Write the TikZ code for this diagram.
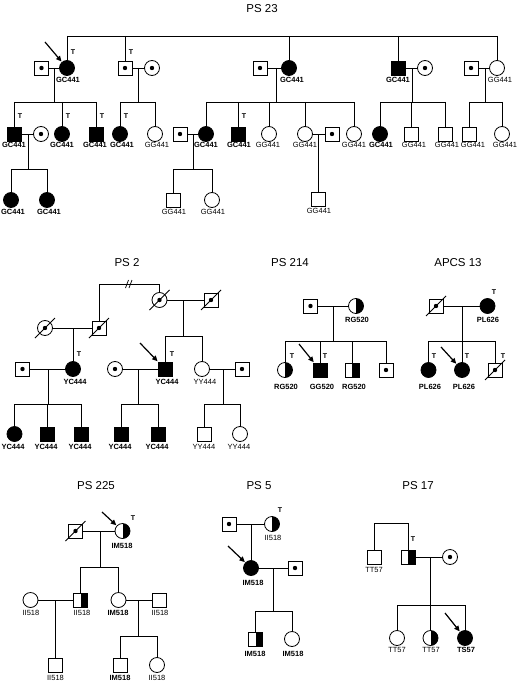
\documentclass[tikz,border=0pt]{standalone}
\usepackage{fontspec}
\setmainfont{Liberation Sans}
\usetikzlibrary{arrows.meta}
\newcommand\deadmark[1]{\draw[ln] ([shift={(-10,10)}]#1.center) -- ([shift={(10,-10)}]#1.center);}
\begin{document}
\begin{tikzpicture}[x=1pt,y=-1pt,
  sym/.style={draw, line width=0.8pt, inner sep=0pt, outer sep=0pt},
  sq/.style={sym, rectangle, minimum size=14pt},
  ci/.style={sym, circle, minimum size=15pt},
  aff/.style={fill=black},
  car/.style={path picture={\fill (path picture bounding box.center) circle (2.2pt);}},
  half/.style={path picture={\fill (path picture bounding box.north) rectangle (path picture bounding box.south east);}},
  lab/.style={font=\fontsize{7.5}{8}\selectfont, inner sep=0pt},
  blab/.style={font=\fontsize{7.5}{8}\selectfont\bfseries, inner sep=0pt},
  tm/.style={font=\fontsize{7}{8}\selectfont\bfseries, inner sep=0pt},
  ttl/.style={font=\fontsize{11.5}{13}\selectfont, inner sep=0pt},
  ln/.style={line width=0.75pt},
  prob/.style={line width=1.2pt, -{Triangle[length=5.5pt,width=5pt]}, shorten >=1pt}
]
\useasboundingbox (0,0) rectangle (520,682);

%================ PS 23
\node[ttl] (T23) at (262,9) {PS 23};
\node[sq,car] (a1) at (41.5,68) {};
\node[ci,aff] (a2) at (67,68) {};
\node[sq,car] (a3) at (125,68) {};
\node[ci,car] (a4) at (152,68) {};
\node[sq,car] (a5) at (260,68) {};
\node[ci,aff] (a6) at (289,68) {};
\node[sq,aff] (a7) at (398,68) {};
\node[ci,car] (a8) at (425,68) {};
\node[sq,car] (a9) at (471,68) {};
\node[ci] (a10) at (497,68) {};
\node[tm] (ta2) at (73,52) {T};
\node[tm] (ta3) at (131,52) {T};
\node[blab] (La2) at (68,80) {GC441};
\node[blab] (La6) at (292,80) {GC441};
\node[blab] (La7) at (398,80) {GC441};
\node[lab] (La10) at (500,80) {GG441};
\coordinate (ar23) at (45,42);
\draw[prob] (ar23) -- (a2);

\coordinate (top23) at (0,36);
\draw[ln] (a2|-top23) -- (a10|-top23);
\foreach \c in {a2,a3,a6,a7,a10} \draw[ln] (\c|-top23) -- (\c);

% row 2
\node[sq,aff] (b1) at (14,134) {};
\node[ci,car] (b2) at (41,134) {};
\node[ci,aff] (b3) at (62,134) {};
\node[sq,aff] (b4) at (96,134) {};
\node[ci,aff] (b5) at (120,134) {};
\node[ci] (b6) at (155,134) {};
\node[sq,car] (b7) at (180,134) {};
\node[ci,aff] (b8) at (206,134) {};
\node[sq,aff] (b9) at (238,134) {};
\node[ci] (b10) at (269,134) {};
\node[ci] (b11) at (305,134) {};
\node[sq,car] (b13) at (332,134) {};
\node[ci] (b12) at (354,134) {};
\node[ci,aff] (b14) at (380,134) {};
\node[sq] (b15) at (411,134) {};
\node[sq] (b16) at (445,134) {};
\node[sq] (b17) at (469,134) {};
\node[ci] (b18) at (502,134) {};
\node[tm] (tb1) at (20,116) {T};
\node[tm] (tb3) at (68,116) {T};
\node[tm] (tb4) at (102,116) {T};
\node[tm] (tb5) at (126,116) {T};
\node[tm] (tb9) at (244,116) {T};
\node[blab] (Lb1) at (14,145) {GC441};
\node[blab] (Lb3) at (62,145) {GC441};
\node[blab] (Lb4) at (95,145) {GC441};
\node[blab] (Lb5) at (122,145) {GC441};
\node[lab] (Lb6) at (157,145) {GG441};
\node[blab] (Lb8) at (206,145) {GC441};
\node[blab] (Lb9) at (239,145) {GC441};
\node[lab] (Lb10) at (268,145) {GG441};
\node[lab] (Lb11) at (305,145) {GG441};
\node[lab] (Lb12) at (354,145) {GG441};
\node[blab] (Lb14) at (381,145) {GC441};
\node[lab] (Lb15) at (414,145) {GG441};
\node[lab] (Lb16) at (447,145) {GG441};
\node[lab] (Lb17) at (473,145) {GG441};
\node[lab] (Lb18) at (505,145) {GG441};

% families row1 -> row2
\draw[ln] (a1) -- (a2);
\coordinate (s1) at (54,102);
\draw[ln] (s1|-a1) -- (s1);
\draw[ln] (b1|-s1) -- (b4|-s1);
\foreach \c in {b1,b3,b4} \draw[ln] (\c|-s1) -- (\c);

\draw[ln] (a3) -- (a4);
\coordinate (s2) at (138,102);
\draw[ln] (s2|-a3) -- (s2);
\draw[ln] (b5|-s2) -- (b6|-s2);
\foreach \c in {b5,b6} \draw[ln] (\c|-s2) -- (\c);

\draw[ln] (a5) -- (a6);
\coordinate (s3) at (276,102);
\draw[ln] (s3|-a5) -- (s3);
\draw[ln] (b8|-s3) -- (b12|-s3);
\foreach \c in {b8,b9,b10,b11,b12} \draw[ln] (\c|-s3) -- (\c);

\draw[ln] (a7) -- (a8);
\coordinate (s4) at (412,102);
\draw[ln] (s4|-a7) -- (s4);
\draw[ln] (b14|-s4) -- (b16|-s4);
\foreach \c in {b14,b15,b16} \draw[ln] (\c|-s4) -- (\c);

\draw[ln] (a9) -- (a10);
\coordinate (s5) at (485,102);
\draw[ln] (s5|-a9) -- (s5);
\draw[ln] (b17|-s5) -- (b18|-s5);
\foreach \c in {b17,b18} \draw[ln] (\c|-s5) -- (\c);

% row 3
\node[ci,aff] (c1) at (11,200) {};
\node[ci,aff] (c2) at (47,200) {};
\node[sq] (c3) at (173,200) {};
\node[ci] (c4) at (212,200) {};
\node[sq] (c5) at (318,199) {};
\node[blab] (Lc1) at (13,212) {GC441};
\node[blab] (Lc2) at (49,212) {GC441};
\node[lab] (Lc3) at (174,212) {GG441};
\node[lab] (Lc4) at (213,212) {GG441};
\node[lab] (Lc5) at (319,211) {GG441};

\draw[ln] (b1) -- (b2);
\coordinate (s6) at (28,169);
\draw[ln] (s6|-b1) -- (s6);
\draw[ln] (c1|-s6) -- (c2|-s6);
\foreach \c in {c1,c2} \draw[ln] (\c|-s6) -- (\c);

\draw[ln] (b7) -- (b8);
\coordinate (s7) at (193,169);
\draw[ln] (s7|-b7) -- (s7);
\draw[ln] (c3|-s7) -- (c4|-s7);
\foreach \c in {c3,c4} \draw[ln] (\c|-s7) -- (\c);

\draw[ln] (b11) -- (b13);
\draw[ln] (c5|-b11) -- (c5);

%================ PS 2
\node[ttl] (T2) at (127,263) {PS 2};
\node[ci,car] (d1) at (45,328) {};
\node[sq,car] (d2) at (99,328) {};
\node[ci,car] (d3) at (159.5,300) {};
\node[sq,car] (d4) at (211,300) {};
\deadmark{d1}\deadmark{d2}\deadmark{d3}\deadmark{d4}
\coordinate (top2) at (0,284);
\draw[ln] (d2) -- (d2|-top2) -- (d3|-top2) -- (d3);
\draw[ln] (125.5,288) -- (128.5,280);
\draw[ln] (129,288) -- (132,280);

\node[sq,car] (d5) at (22.5,369) {};
\node[ci,aff] (d6) at (73,369) {};
\node[ci,car] (d7) at (115,369) {};
\node[sq,aff] (d8) at (165,369) {};
\node[ci] (d9) at (202,369) {};
\node[sq,car] (d10) at (242,369) {};
\node[tm] (td6) at (79,354) {T};
\node[tm] (td8) at (172,354) {T};
\node[blab] (Ld6) at (75,382) {YC444};
\node[blab] (Ld8) at (167,382) {YC444};
\node[lab] (Ld9) at (205,382) {YY444};
\coordinate (ar2) at (140,343);
\draw[prob] (ar2) -- (d8);

\draw[ln] (d1) -- (d2);
\draw[ln] (d6|-d1) -- (d6);
\draw[ln] (d3) -- (d4);
\coordinate (s8) at (183,336);
\draw[ln] (s8|-d3) -- (s8);
\draw[ln] (d8|-s8) -- (d9|-s8);
\foreach \c in {d8,d9} \draw[ln] (\c|-s8) -- (\c);

\node[ci,aff] (e1) at (14.5,434) {};
\node[sq,aff] (e2) at (47,434) {};
\node[sq,aff] (e3) at (81,434) {};
\node[sq,aff] (e4) at (121,434) {};
\node[sq,aff] (e5) at (158,434) {};
\node[sq] (e6) at (204,434) {};
\node[ci] (e7) at (240,434) {};
\node[blab] (Le1) at (13,447) {YC444};
\node[blab] (Le2) at (46,447) {YC444};
\node[blab] (Le3) at (80,447) {YC444};
\node[blab] (Le4) at (120,447) {YC444};
\node[blab] (Le5) at (157,447) {YC444};
\node[lab] (Le6) at (204,447) {YY444};
\node[lab] (Le7) at (239,447) {YY444};

\draw[ln] (d5) -- (d6);
\coordinate (s9) at (48,404);
\draw[ln] (s9|-d5) -- (s9);
\draw[ln] (e1|-s9) -- (e3|-s9);
\foreach \c in {e1,e2,e3} \draw[ln] (\c|-s9) -- (\c);

\draw[ln] (d7) -- (d8);
\coordinate (s10) at (138,404);
\draw[ln] (s10|-d7) -- (s10);
\draw[ln] (e4|-s10) -- (e5|-s10);
\foreach \c in {e4,e5} \draw[ln] (\c|-s10) -- (\c);

\draw[ln] (d9) -- (d10);
\coordinate (s11) at (223,404);
\draw[ln] (s11|-d9) -- (s11);
\draw[ln] (e6|-s11) -- (e7|-s11);
\foreach \c in {e6,e7} \draw[ln] (\c|-s11) -- (\c);

%================ PS 214
\node[ttl] (T214) at (290,263) {PS 214};
\node[sq,car] (f1) at (310.5,306) {};
\node[ci,half] (f2) at (356,306) {};
\node[blab] (Lf2) at (357,320) {RG520};
\node[ci,half] (g1) at (285,370) {};
\node[sq,aff] (g2) at (320,370) {};
\node[sq,half] (g3) at (352,370) {};
\node[sq,car] (g4) at (386,370) {};
\node[tm] (tg1) at (292,356) {T};
\node[tm] (tg2) at (325,356) {T};
\node[blab] (Lg1) at (286,387) {RG520};
\node[blab] (Lg2) at (322,387) {GG520};
\node[blab] (Lg3) at (354,387) {RG520};
\coordinate (ar214) at (299,344);
\draw[prob] (ar214) -- (g2);
\draw[ln] (f1) -- (f2);
\coordinate (s12) at (333,341);
\draw[ln] (s12|-f1) -- (s12);
\draw[ln] (g1|-s12) -- (g4|-s12);
\foreach \c in {g1,g2,g3,g4} \draw[ln] (\c|-s12) -- (\c);

%================ APCS 13
\node[ttl] (T13) at (458,263) {APCS 13};
\node[sq,car] (h1) at (436,306) {};
\node[ci,aff] (h2) at (487.5,306) {};
\deadmark{h1}
\node[tm] (th2) at (494,292) {T};
\node[blab] (Lh2) at (488,320) {PL626};
\node[ci,aff] (i1) at (428.5,370) {};
\node[ci,aff] (i2) at (462,370) {};
\node[sq,car] (i3) at (495,370) {};
\deadmark{i3}
\node[tm] (ti1) at (434,356) {T};
\node[tm] (ti2) at (467,356) {T};
\node[tm] (ti3) at (503,356) {T};
\node[blab] (Li1) at (430,387) {PL626};
\node[blab] (Li2) at (464,387) {PL626};
\coordinate (ar13) at (441,347);
\draw[prob] (ar13) -- (i2);
\draw[ln] (h1) -- (h2);
\coordinate (s13) at (462,341);
\draw[ln] (s13|-h1) -- (s13);
\draw[ln] (i1|-s13) -- (i3|-s13);
\foreach \c in {i1,i2,i3} \draw[ln] (\c|-s13) -- (\c);

%================ PS 225
\node[ttl] (T225) at (96,486) {PS 225};
\node[sq,car] (j1) at (75.5,531) {};
\node[ci,half] (j2) at (122.5,531) {};
\deadmark{j1}
\node[tm] (tj2) at (133,518) {T};
\node[blab] (Lj2) at (122,546) {IM518};
\coordinate (ar225) at (102,512);
\draw[prob] (ar225) -- (j2);
\node[ci] (k1) at (30.5,600) {};
\node[sq,half] (k2) at (80.5,600) {};
\node[ci] (k3) at (118.5,600) {};
\node[sq] (k4) at (159.5,600) {};
\node[lab] (Lk1) at (31,613) {II518};
\node[lab] (Lk2) at (82,613) {II518};
\node[blab] (Lk3) at (118,613) {IM518};
\node[lab] (Lk4) at (160,613) {II518};
\draw[ln] (j1) -- (j2);
\coordinate (s14) at (100,567);
\draw[ln] (s14|-j1) -- (s14);
\draw[ln] (k2|-s14) -- (k3|-s14);
\foreach \c in {k2,k3} \draw[ln] (\c|-s14) -- (\c);
\node[sq] (l1) at (55.5,665) {};
\node[sq] (l2) at (120,665) {};
\node[ci] (l3) at (157,665) {};
\node[lab] (Ll1) at (55.5,678) {II518};
\node[blab] (Ll2) at (120,678) {IM518};
\node[lab] (Ll3) at (157,678) {II518};
\draw[ln] (k1) -- (k2);
\draw[ln] (l1|-k1) -- (l1);
\draw[ln] (k3) -- (k4);
\coordinate (s15) at (138,636);
\draw[ln] (s15|-k3) -- (s15);
\draw[ln] (l2|-s15) -- (l3|-s15);
\foreach \c in {l2,l3} \draw[ln] (\c|-s15) -- (\c);

%================ PS 5
\node[ttl] (T5) at (259,486) {PS 5};
\node[sq,car] (m1) at (229,524) {};
\node[ci,half] (m2) at (272,524) {};
\node[tm] (tm2) at (280,510) {T};
\node[lab] (Lm2) at (273,538) {II518};
\node[ci,aff] (m3) at (251,568) {};
\node[sq,car] (m4) at (295,568) {};
\node[blab] (Lm3) at (253,583) {IM518};
\coordinate (ar5) at (228,546);
\draw[prob] (ar5) -- (m3);
\draw[ln] (m1) -- (m2);
\draw[ln] (m3|-m1) -- (m3);
\node[sq,half] (n1) at (255.5,639) {};
\node[ci] (n2) at (292,639) {};
\node[blab] (Ln1) at (255,654) {IM518};
\node[blab] (Ln2) at (293,654) {IM518};
\draw[ln] (m3) -- (m4);
\coordinate (s16) at (273,611);
\draw[ln] (s16|-m3) -- (s16);
\draw[ln] (n1|-s16) -- (n2|-s16);
\foreach \c in {n1,n2} \draw[ln] (\c|-s16) -- (\c);

%================ PS 17
\node[ttl] (T17) at (418,486) {PS 17};
\node[sq] (o1) at (374,557) {};
\node[sq,half] (o2) at (408,557) {};
\node[ci,car] (o3) at (450,557) {};
\node[tm] (to2) at (413,539) {T};
\node[lab] (Lo1) at (374,570) {TT57};
\coordinate (top17) at (0,523);
\draw[ln] (o1) -- (o1|-top17) -- (o2|-top17) -- (o2);
\node[ci] (p1) at (397,638) {};
\node[ci,half] (p2) at (430.5,638) {};
\node[ci,aff] (p3) at (465,638) {};
\node[lab] (Lp1) at (397,650) {TT57};
\node[lab] (Lp2) at (431,650) {TT57};
\node[blab] (Lp3) at (466,650) {TS57};
\coordinate (ar17) at (445,613);
\draw[prob] (ar17) -- (p3);
\draw[ln] (o2) -- (o3);
\coordinate (s17) at (430,605);
\draw[ln] (s17|-o2) -- (s17);
\draw[ln] (p1|-s17) -- (p3|-s17);
\foreach \c in {p1,p2,p3} \draw[ln] (\c|-s17) -- (\c);
\end{tikzpicture}
\end{document}
